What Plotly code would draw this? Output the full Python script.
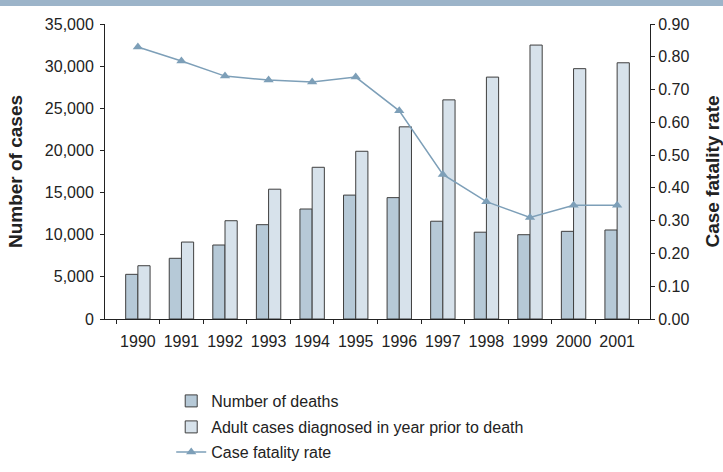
import plotly.graph_objects as go

years = ["1990", "1991", "1992", "1993", "1994", "1995", "1996", "1997", "1998", "1999", "2000", "2001"]
deaths = [5300, 7200, 8780, 11190, 13050, 14700, 14400, 11600, 10300, 10000, 10400, 10560]
cases = [6320, 9130, 11660, 15400, 18000, 19900, 22800, 26000, 28700, 32500, 29700, 30400]
rate = [0.83, 0.787, 0.741, 0.729, 0.723, 0.738, 0.635, 0.441, 0.358, 0.310, 0.347, 0.347]

FONT = "Liberation Sans, Arial, sans-serif"
INK = "#222222"

fig = go.Figure()
fig.add_trace(go.Bar(x=years, y=deaths, name="Number of deaths", legend="legend",
                     marker=dict(color="#b6c9d7", line=dict(color="#3f3f3f", width=1))))
fig.add_trace(go.Bar(x=years, y=cases, name="Adult cases diagnosed in year prior to death",
                     legend="legend2",
                     marker=dict(color="#d7e2eb", line=dict(color="#3f3f3f", width=1))))
fig.add_trace(go.Scatter(x=years, y=rate, name="Case fatality rate", yaxis="y2",
                         legend="legend3", mode="lines+markers",
                         line=dict(color="#7d9fb8", width=1.5),
                         marker=dict(symbol="triangle-up", size=9, color="#7d9fb8")))

leg = dict(x=0.1215, xanchor="left", yanchor="middle", orientation="v",
           font=dict(family=FONT, size=16, color=INK), bgcolor="rgba(0,0,0,0)")

fig.update_layout(
    width=723, height=472,
    margin=dict(l=105, r=73, t=24, b=153, autoexpand=False),
    paper_bgcolor="white", plot_bgcolor="white",
    font=dict(family=FONT, size=16, color=INK),
    barmode="group", bargap=0.44, bargroupgap=0,
    showlegend=True,
    legend=dict(leg, y=-(401 - 319) / 295),
    legend2=dict(leg, y=-(427 - 319) / 295),
    legend3=dict(leg, y=-(452 - 319) / 295),
    xaxis=dict(type="category", showline=True, linecolor=INK, linewidth=1,
               ticks="outside", ticklen=4, tickcolor=INK, tickson="boundaries",
               showgrid=False, tickangle=0, automargin=False, ticklabelstandoff=8,
               tickfont=dict(size=16)),
    yaxis=dict(range=[0, 35000], dtick=5000, tickformat=",", showline=True,
               linecolor=INK, linewidth=1, ticks="outside", ticklen=4,
               tickcolor=INK, showgrid=False, zeroline=False, automargin=False,
               ticklabelstandoff=3, tickfont=dict(size=16),
               title=dict(text="<b>Number of cases</b>", font=dict(size=19), standoff=17)),
    yaxis2=dict(range=[0, 0.9], dtick=0.1, tickformat=".2f", overlaying="y",
                side="right", showline=True, linecolor=INK, linewidth=1,
                ticks="outside", ticklen=4, tickcolor=INK, showgrid=False,
                zeroline=False, automargin=False, tickfont=dict(size=16),
                title=dict(text="<b>Case fatality rate</b>", font=dict(size=19), standoff=17)),
)
# top band
fig.add_shape(type="rect", xref="paper", yref="paper", x0=-105/545, x1=(723-105)/545,
              y0=1 + 18/295, y1=1 + 24/295, fillcolor="#9cb4c9", line=dict(width=0))

fig.write_html("out.html", config={"displayModeBar": False},
               post_script="document.body.style.margin='0px';")
